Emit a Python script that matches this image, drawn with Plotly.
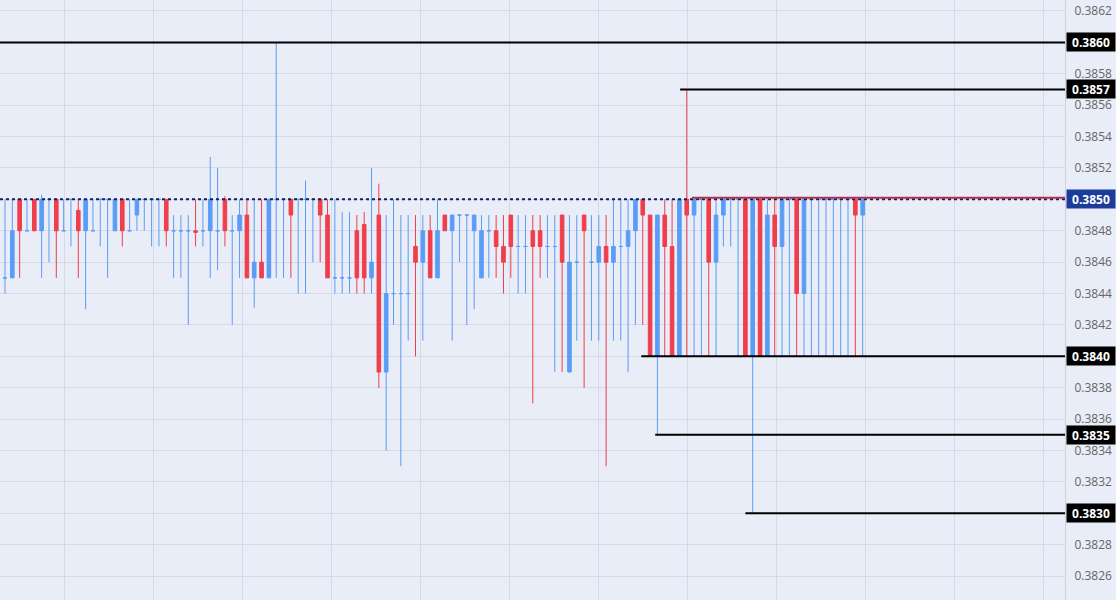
import plotly.graph_objects as go

opens = [.3845,.3845,.3850,.3848,.3850,.3848,.3850,.3850,.3848,.3850,
         .38493,.3848,.3848,.3850,.3850,.3848,.3850,.3848,.3849,.3850,
         .3850,.3850,.3850,.3848,.3848,.3848,.3848,.3848,.3848,.3848,
         .3850,.3848,.3848,.3849,.3845,.3846,.3845,.3850,.3850,.3850,
         .3850,.3850,.3850,.3850,.3849,.3845,.3845,.3845,.3848,.38484,
         .3845,.3849,.3839,.3844,.3844,.3844,.3847,.3846,.3848,.3845,
         .3849,.3848,.3849,.3849,.3848,.3845,.3848,.3848,.3847,.3849,
         .3847,.3847,.3848,.3848,.3847,.3847,.3849,.3839,.3846,.3849,
         .3846,.3846,.3847,.3846,.3847,.3847,.3848,.3850,.3849,.3840,
         .3849,.3847,.3840,.3850,.3849,.3850,.3850,.3846,.3849,.3850,
         .3850,.3850,.3840,.3850,.3840,.3849,.3847,.3850,.3850,.3844,
         .3850,.3850,.3850,.3850,.3850,.3850,.3850,.3849]
highs = [.3850,.3850,.3850,.3850,.3850,.38503,.3850,.3850,.3850,.3850,
         .3850,.3850,.3850,.3850,.3850,.3850,.3850,.3850,.3850,.3850,
         .3850,.3850,.3850,.3849,.3849,.3849,.3850,.3850,.38527,.3852,
         .38502,.3849,.3850,.3850,.3850,.3850,.3850,.3860,.3850,.3850,
         .3850,.38512,.3850,.3850,.3850,.3850,.38492,.38492,.3849,.38492,
         .3852,.3851,.3849,.3850,.3849,.3849,.3849,.3849,.3849,.3850,
         .3849,.3849,.3849,.3849,.3849,.3849,.3849,.3849,.3849,.3849,
         .3849,.3849,.3849,.3849,.3849,.3849,.3849,.3849,.3849,.3849,
         .3849,.3849,.3849,.3850,.3850,.3850,.3850,.3850,.3849,.3849,
         .3850,.3850,.3850,.3857,.3850,.3850,.3850,.3850,.3850,.3850,
         .3850,.3850,.3850,.3850,.3850,.3850,.3850,.3850,.3850,.3850,
         .3850,.3850,.3850,.3850,.3850,.3850,.3850,.3850]
lows = [.3844,.3845,.3845,.3848,.3848,.3845,.3846,.3845,.3848,.3847,
        .3845,.3843,.3848,.3847,.3845,.3848,.3847,.3848,.3848,.3848,
        .3847,.3847,.3847,.3845,.3845,.3842,.3847,.3847,.3845,.38455,
        .3847,.3842,.3845,.3845,.38431,.3845,.3845,.3845,.3845,.3845,
        .3844,.3844,.3846,.3846,.3845,.3844,.3844,.3844,.3844,.3844,
        .3844,.3838,.3834,.3842,.3833,.3841,.3840,.3841,.3845,.3845,
        .3848,.3841,.3846,.3842,.3843,.3845,.3845,.3845,.3844,.3845,
        .3844,.3844,.3837,.3845,.3845,.3839,.3839,.3839,.3841,.3838,
        .3841,.3841,.3833,.3841,.3841,.3839,.3842,.3842,.3840,.3835,
        .3840,.3840,.3840,.3840,.3840,.3840,.3840,.3840,.3847,.3847,
        .3840,.3840,.3830,.3840,.3840,.3840,.3840,.3840,.3840,.3840,
        .3840,.3840,.3840,.3840,.3840,.3840,.3840,.3840]
closes = [.3845,.3848,.3848,.3848,.3848,.3850,.3850,.3848,.3848,.3850,
          .3848,.3850,.3848,.3850,.3850,.3850,.3848,.3848,.3850,.3850,
          .3850,.3850,.3848,.3848,.3848,.3848,.38479,.3848,.3850,.3848,
          .3848,.3848,.3849,.3845,.3846,.3845,.3850,.3850,.3850,.3849,
          .3850,.3850,.3850,.3849,.3845,.3845,.3845,.3845,.3845,.3845,
          .3846,.3839,.3844,.3844,.3844,.3844,.3846,.3848,.3845,.3848,
          .3848,.3849,.3849,.3849,.3849,.3848,.3848,.3847,.3846,.3847,
          .3847,.3847,.3847,.3847,.3847,.3847,.3846,.3846,.3846,.3848,
          .3846,.3847,.3846,.3847,.3847,.3848,.3850,.3849,.3840,.3849,
          .3847,.3840,.3850,.3849,.3850,.3850,.3846,.3849,.3850,.3850,
          .3850,.3840,.3850,.3840,.3849,.3847,.3850,.3850,.3844,.3850,
          .3850,.3850,.3850,.3850,.3850,.3850,.3849,.3850]

levels = [0.3860, 0.3857, 0.3840, 0.3835, 0.3830]
level_start = [-1, 92.1, 86.8, 88.7, 101.0]
level_text = ["0.3860", "0.3857", "0.3840", "0.3835", "0.3830"]
last_price = 0.3850
ytick_vals = [0.3826, 0.3828, 0.3830, 0.3832, 0.3834, 0.3836, 0.3838, 0.3840,
              0.3842, 0.3844, 0.3846, 0.3848, 0.3850, 0.3852, 0.3854, 0.3856,
              0.3858, 0.3860, 0.3862]
ytick_text = [f"{v:.4f}" for v in ytick_vals]

RED = "#ef3e4c"
BLUE = "#5b9cf6"
n = len(opens)
xs = list(range(n))
red_idx = [i for i in xs if closes[i] < opens[i]]
blue_idx = [i for i in xs if closes[i] >= opens[i]]

fig = go.Figure()
for idx, col in [(blue_idx, BLUE), (red_idx, RED)]:
    fig.add_trace(go.Candlestick(
        x=idx, open=[opens[i] for i in idx], high=[highs[i] for i in idx],
        low=[lows[i] for i in idx], close=[closes[i] for i in idx],
        increasing=dict(line=dict(color=col, width=1), fillcolor=col),
        decreasing=dict(line=dict(color=col, width=1), fillcolor=col),
        whiskerwidth=0, showlegend=False, hoverinfo="skip"))

fig.add_hline(y=last_price, line=dict(color="#14215e", width=2, dash="dot"))
fig.add_shape(type="line", x0=93.7, x1=145, xref="x", yref="y", y0=0.38501, y1=0.38501,
              line=dict(color="#b0304a", width=2))
for lv, st in zip(levels, level_start):
    fig.add_shape(type="line", xref="x", yref="y", x0=st, x1=145, y0=lv, y1=lv,
                  line=dict(color="black", width=2))
for lv, tx in zip(levels, level_text):
    fig.add_annotation(xref="paper", yref="y", x=1.0, y=lv, xanchor="left", yanchor="middle",
                       text=f"<b>{tx}</b>", showarrow=False, bgcolor="black",
                       font=dict(color="white", size=12, family="Open Sans"),
                       width=46, height=16, borderpad=1, xshift=1)
fig.add_annotation(xref="paper", yref="y", x=1.0, y=last_price, xanchor="left", yanchor="middle",
                   text="<b>0.3850</b>", showarrow=False, bgcolor="#1c3c9c",
                   font=dict(color="white", size=12, family="Open Sans"),
                   width=46, height=16, borderpad=1, xshift=1)

fig.update_layout(
    width=1116, height=600, margin=dict(l=0, r=51, t=0, b=0, autoexpand=False),
    paper_bgcolor="#e9edf7", plot_bgcolor="#e9edf7",
    xaxis=dict(range=[-0.68, 144.6], showticklabels=False, rangeslider=dict(visible=False),
               tick0=8.09, dtick=12.14, gridcolor="#d5dae6", zeroline=False, fixedrange=True),
    yaxis=dict(side="right", range=[0.382448, 0.38627], tickvals=ytick_vals, ticktext=ytick_text,
               gridcolor="#d5dae6", zeroline=False, showline=True, linecolor="#ccd2de",
               tickfont=dict(color="#666", size=12, family="Open Sans"), ticklabelstandoff=6),
)
fig.write_html("out.html", config={"displayModeBar": False},
               post_script="document.body.style.margin='0';document.body.style.background='#e9edf7';")
